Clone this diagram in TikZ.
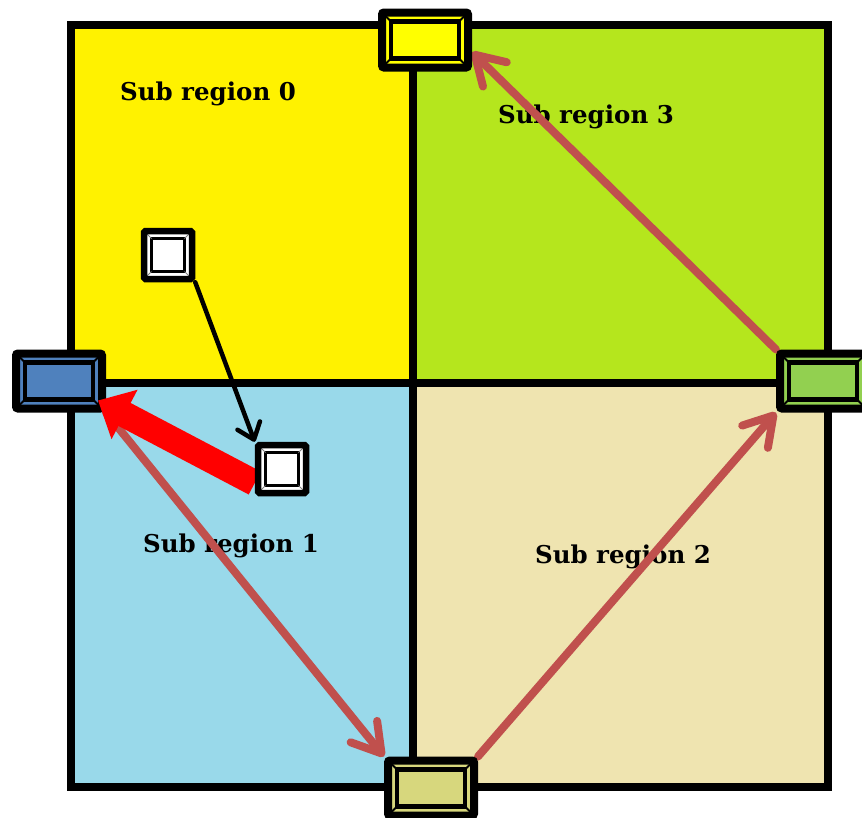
\documentclass[tikz,border=0pt]{standalone}
\usepackage{fontspec}
\setmainfont{DejaVu Serif}
\usetikzlibrary{arrows.meta}
\pgfdeclarelayer{bg}
\pgfdeclarelayer{fg}
\pgfsetlayers{bg,main,fg}

\definecolor{zoneyellow}{RGB}{255,242,0}
\definecolor{zonegreen}{RGB}{181,230,29}
\definecolor{zoneblue}{RGB}{153,217,234}
\definecolor{zonebeige}{RGB}{239,228,176}
\definecolor{gateyellow}{RGB}{255,255,0}
\definecolor{gateblue}{RGB}{79,129,189}
\definecolor{gategreen}{RGB}{146,208,80}
\definecolor{gateolive}{RGB}{215,215,125}
\definecolor{flowred}{RGB}{192,80,77}

\begin{document}
\begin{tikzpicture}[x=1pt, y=-1pt,
    gateway/.style={draw, line width=8pt, rounded corners=2pt, fill=#1,
        minimum width=86pt, minimum height=55pt, inner sep=0pt,
        path picture={
            \draw[line width=4.5pt, sharp corners] ([shift={(9pt,-9pt)}]path picture bounding box.north west)
                rectangle ([shift={(-9pt,9pt)}]path picture bounding box.south east);
            \foreach \a/\dx/\dy in {north west/9/-9, north east/-9/-9, south west/9/9, south east/-9/9}
                \draw[line width=2pt] (path picture bounding box.\a) -- ++(\dx pt,\dy pt);
        }},
    cellbox/.style={draw, line width=6.5pt, rounded corners=1.5pt, fill=white,
        minimum size=48pt, inner sep=0pt,
        path picture={
            \draw[line width=3.5pt, sharp corners] ([shift={(7.5pt,-7.5pt)}]path picture bounding box.north west)
                rectangle ([shift={(-7.5pt,7.5pt)}]path picture bounding box.south east);
            \foreach \a/\dx/\dy in {north west/7.5/-7.5, north east/-7.5/-7.5, south west/7.5/7.5, south east/-7.5/7.5}
                \draw[line width=1pt, gray] (path picture bounding box.\a) -- ++(\dx pt,\dy pt);
        }},
    zonelabel/.style={font=\bfseries\fontsize{24.5}{28}\selectfont},
    flow/.style={draw=flowred, line width=8pt, line cap=round,
        -{Straight Barb[length=28pt,width=34pt,round]}},
    move/.style={draw=black, line width=4.5pt, line cap=round,
        -{Straight Barb[length=15pt,width=24pt,round]}},
    push/.style={draw=red, line width=26pt,
        -{Triangle[length=30pt,width=54pt]}}
]
\useasboundingbox (0,0) rectangle (862,817);

% gateways between the sub regions
\node[gateway=gateyellow] (gwT) at (425,40)  {};
\node[gateway=gateblue]   (gwL) at (59,381)  {};
\node[gateway=gategreen]  (gwR) at (823,381) {};
\node[gateway=gateolive]  (gwB) at (431,788) {};

\begin{pgfonlayer}{fg}
\node[cellbox] (sq0) at (168,255) {};
\node[cellbox] (sq1) at (282,469) {};
\end{pgfonlayer}

\begin{pgfonlayer}{bg}
\fill[zoneyellow] (71,25)   rectangle (413,383);
\fill[zonegreen]  (413,25)  rectangle (828,383);
\fill[zoneblue]   (71,383)  rectangle (413,787);
\fill[zonebeige]  (413,383) rectangle (828,787);
\draw[line width=7.5pt] (71,25) rectangle (828,787);
\draw[line width=7.5pt] (413,25) -- (413,787);
\draw[line width=7.5pt] (71,383) -- (828,383);

\node[zonelabel] (lbl0) at (208,94)  {Sub region 0};
\node[zonelabel] (lbl3) at (586,117) {Sub region 3};
\node[zonelabel] (lbl1) at (231,546) {Sub region 1};
\node[zonelabel] (lbl2) at (623,557) {Sub region 2};

\draw[flow] (gwL.south east) -- (gwB.north west);
\draw[flow] (gwB.north east) -- (gwR.south west);
\draw[flow] (gwR.north west) -- ([yshift=-12pt]gwT.east);
\end{pgfonlayer}

\draw[push] ([yshift=-14pt]sq1.west) -- ([shift={(-8pt,12pt)}]gwL.south east);

\begin{pgfonlayer}{fg}
\draw[move] (sq0.south east) -- (sq1.north west);
\end{pgfonlayer}

\end{tikzpicture}
\end{document}
